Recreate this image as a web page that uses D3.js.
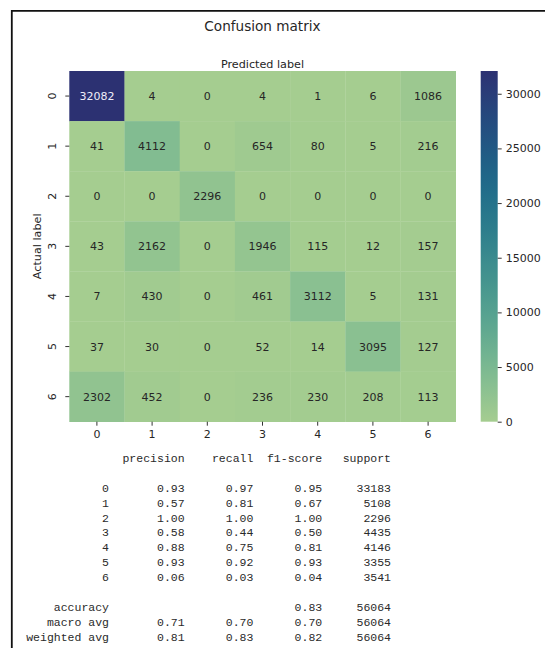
<!DOCTYPE html>
<html>
<head>
<meta charset="utf-8">
<script src="https://cdn.jsdelivr.net/npm/d3@7"></script>
<style>
  html, body { margin: 0; padding: 0; background: #fff; }
  svg { display: block; }
  text { font-family: "DejaVu Sans", sans-serif; fill: #262626; }
  .mono { font-family: "Liberation Mono", "DejaVu Sans Mono", monospace; fill: #2a2a2a; }
</style>
</head>
<body>
<svg id="chart" width="545" height="648"></svg>
<script>
// Class labels shared by both axes
const classes = ["0", "1", "2", "3", "4", "5", "6"];

// Confusion matrix counts: rows = actual class, columns = predicted class
const counts = [
  [32082, 4, 0, 4, 1, 6, 1086],
  [41, 4112, 0, 654, 80, 5, 216],
  [0, 0, 2296, 0, 0, 0, 0],
  [43, 2162, 0, 1946, 115, 12, 157],
  [7, 430, 0, 461, 3112, 5, 131],
  [37, 30, 0, 52, 14, 3095, 127],
  [2302, 452, 0, 236, 230, 208, 113]
];

// Colorbar tick values
const cbTicks = [0, 5000, 10000, 15000, 20000, 25000, 30000];

// Classification report
const reportHeaders = ["precision", "recall", "f1-score", "support"];
const reportLabels = ["0", "1", "2", "3", "4", "5", "6"];
const precision = [0.93, 0.57, 1.00, 0.58, 0.88, 0.93, 0.06];
const recall    = [0.97, 0.81, 1.00, 0.44, 0.75, 0.92, 0.03];
const f1score   = [0.95, 0.67, 1.00, 0.50, 0.81, 0.93, 0.04];
const support   = [33183, 5108, 2296, 4435, 4146, 3355, 3541];

const avgLabels    = ["accuracy", "macro avg", "weighted avg"];
const avgPrecision = [null, 0.71, 0.81];
const avgRecall    = [null, 0.70, 0.83];
const avgF1        = [0.83, 0.70, 0.82];
const avgSupport   = [56064, 56064, 56064];

// "crest" style sequential palette (light green -> navy)
const crest = ["#a5cd90", "#7dba91", "#59a590", "#40908e", "#287a8c", "#1c6488", "#254b7f", "#2c3172"];
const vmax = d3.max(counts.flat());
const color = d3.scaleSequential(d3.interpolateRgbBasis(crest)).domain([0, vmax]);

const svg = d3.select("#chart");

// Outer frame (left and top edges)
svg.append("path")
  .attr("d", "M11.8,648 V10.8 H545")
  .attr("fill", "none")
  .attr("stroke", "#111")
  .attr("stroke-width", 1.8);

// Heatmap geometry
const x = d3.scaleBand().domain(classes).range([69.3, 455.7]);
const y = d3.scaleBand().domain(classes).range([71, 421.7]);

const cells = [];
counts.forEach((row, i) => row.forEach((v, j) => cells.push({ r: classes[i], c: classes[j], v })));

const g = svg.append("g");
g.selectAll("rect.cell")
  .data(cells)
  .join("rect")
  .attr("class", "cell")
  .attr("x", d => x(d.c))
  .attr("y", d => y(d.r))
  .attr("width", x.bandwidth() + 0.3)
  .attr("height", y.bandwidth() + 0.3)
  .attr("fill", d => color(d.v));

// Annotation colour based on cell luminance
function textColor(v) {
  const c = d3.rgb(color(v));
  const lin = ch => { ch /= 255; return ch <= 0.03928 ? ch / 12.92 : Math.pow((ch + 0.055) / 1.055, 2.4); };
  const lum = 0.2126 * lin(c.r) + 0.7152 * lin(c.g) + 0.0722 * lin(c.b);
  return lum > 0.408 ? "#262626" : "#f0eef8";
}

g.selectAll("text.ann")
  .data(cells)
  .join("text")
  .attr("class", "ann")
  .attr("x", d => x(d.c) + x.bandwidth() / 2)
  .attr("y", d => y(d.r) + y.bandwidth() / 2 + 4)
  .attr("text-anchor", "middle")
  .style("font-size", "11px")
  .style("fill", d => textColor(d.v))
  .text(d => d.v);

// X axis (bottom)
const xAxis = svg.append("g")
  .attr("transform", "translate(0,421.7)")
  .call(d3.axisBottom(x).tickSize(4).tickPadding(5));
xAxis.select(".domain").remove();
xAxis.selectAll("line").attr("stroke", "#333");
xAxis.selectAll("text").style("font-size", "11px").style("font-family", "DejaVu Sans").attr("fill", "#262626");

// Y axis (left) with rotated tick labels
const yAxis = svg.append("g")
  .attr("transform", "translate(69.3,0)")
  .call(d3.axisLeft(y).tickSize(4).tickPadding(0));
yAxis.select(".domain").remove();
yAxis.selectAll("line").attr("stroke", "#333");
yAxis.selectAll("text")
  .style("font-size", "11px")
  .style("font-family", "DejaVu Sans")
  .attr("fill", "#262626")
  .attr("x", 0).attr("dy", null)
  .attr("text-anchor", "middle")
  .attr("transform", "translate(-17.5,0) rotate(-90)")
  .attr("y", 4);

// Axis titles
svg.append("text")
  .attr("x", 262.5).attr("y", 67.5)
  .attr("text-anchor", "middle")
  .style("font-size", "11.2px")
  .text("Predicted label");

svg.append("text")
  .attr("transform", "translate(41,246.3) rotate(-90)")
  .attr("text-anchor", "middle")
  .style("font-size", "11.2px")
  .text("Actual label");

svg.append("text")
  .attr("x", 262.5).attr("y", 30.5)
  .attr("text-anchor", "middle")
  .style("font-size", "13.6px")
  .text("Confusion matrix");

// Colorbar
const cbX = 480.7, cbW = 17;
const cbScale = d3.scaleLinear().domain([0, vmax]).range([421.7, 71]);
const grad = svg.append("defs").append("linearGradient")
  .attr("id", "cbgrad").attr("x1", 0).attr("y1", 1).attr("x2", 0).attr("y2", 0);
grad.selectAll("stop")
  .data(d3.range(0, 1.0001, 0.05))
  .join("stop")
  .attr("offset", t => t)
  .attr("stop-color", t => color(t * vmax));
svg.append("rect")
  .attr("x", cbX).attr("y", 71)
  .attr("width", cbW).attr("height", 421.7 - 71)
  .attr("fill", "url(#cbgrad)");

const cbAxis = svg.append("g")
  .attr("transform", `translate(${cbX + cbW},0)`)
  .call(d3.axisRight(cbScale).tickValues(cbTicks).tickFormat(d3.format("d")).tickSize(4).tickPadding(4));
cbAxis.select(".domain").remove();
cbAxis.selectAll("line").attr("stroke", "#333");
cbAxis.selectAll("text").style("font-size", "11px").style("font-family", "DejaVu Sans").attr("fill", "#262626");

// Classification report (monospaced, right-aligned columns)
const colRight = [109, 184.6, 253.4, 322.2, 391];
const fmt2 = d3.format(".2f");
const rep = svg.append("g").attr("class", "report");

rep.selectAll("text.hdr")
  .data(reportHeaders)
  .join("text")
  .attr("class", "mono hdr")
  .attr("x", (d, i) => colRight[i + 1])
  .attr("y", 461.5)
  .attr("text-anchor", "end")
  .style("font-size", "11.5px")
  .text(d => d);

const rowY0 = 492, rowStep = 14.8;
const classRows = reportLabels.map((l, i) => [l, fmt2(precision[i]), fmt2(recall[i]), fmt2(f1score[i]), String(support[i])]);
const avgRows = avgLabels.map((l, i) => [l,
  avgPrecision[i] == null ? "" : fmt2(avgPrecision[i]),
  avgRecall[i] == null ? "" : fmt2(avgRecall[i]),
  fmt2(avgF1[i]), String(avgSupport[i])]);

function drawRows(rows, yStart) {
  rows.forEach((row, ri) => {
    rep.selectAll(null)
      .data(row)
      .join("text")
      .attr("class", "mono")
      .attr("x", (d, i) => colRight[i])
      .attr("y", yStart + ri * rowStep)
      .attr("text-anchor", "end")
      .style("font-size", "11.5px")
      .text(d => d);
  });
}
drawRows(classRows, rowY0);
drawRows(avgRows, 611);
</script>
</body>
</html>
